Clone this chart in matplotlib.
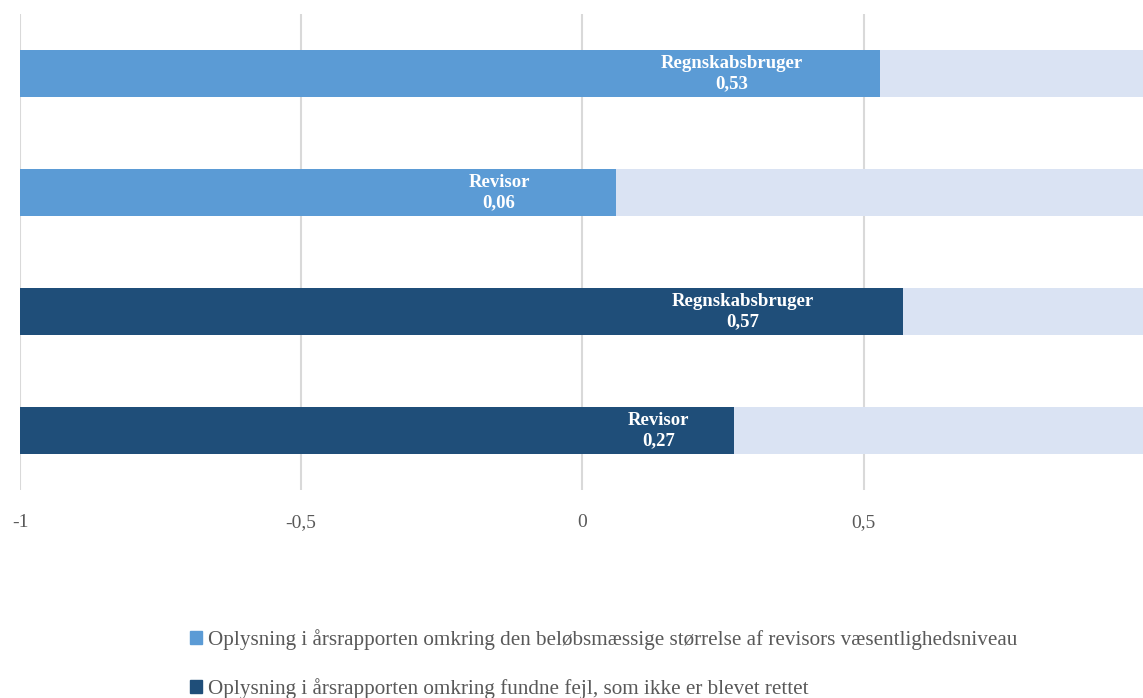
import matplotlib.pyplot as plt
from matplotlib.patches import Patch

# data
groups = ["Regnskabsbruger", "Revisor", "Regnskabsbruger", "Revisor"]
values = [0.53, 0.06, 0.57, 0.27]
series = [0, 0, 1, 1]  # 0 = væsentlighedsniveau, 1 = fundne fejl
series_names = [
    "Oplysning i årsrapporten omkring den beløbsmæssige størrelse af revisors væsentlighedsniveau",
    "Oplysning i årsrapporten omkring fundne fejl, som ikke er blevet rettet",
]
ticks = [-1, -0.5, 0, 0.5, 1]
tick_labels = ["-1", "-0,5", "0", "0,5", ""]  # "1" falls off the right edge

colors = ["#5B9BD5", "#1F4E79"]
bg_color = "#DAE3F3"

plt.rcParams['font.family'] = ['Liberation Serif', 'DejaVu Serif']

fig = plt.figure(figsize=(11.43, 6.98), dpi=100)
ax = fig.add_axes([0.0175, 0.298, 0.984, 0.682])

y = list(range(len(values)))
# light background bar spanning the whole scale
ax.barh(y, [2] * len(values), left=-1, height=0.4, color=bg_color, zorder=2)
ax.barh(y, [v + 1 for v in values], left=-1, height=0.4,
        color=[colors[s] for s in series], zorder=3)

# label positions: middle of 0..value, second label was moved left in the original
label_x = [v / 2 for v in values]
label_x[1] = -0.148
for yi, xi, g, v in zip(y, label_x, groups, values):
    ax.text(xi, yi, f"{g}\n{v:.2f}".replace(".", ","), ha="center", va="center",
            color="white", fontweight="bold", fontsize=13.5, zorder=4,
            linespacing=1.3)

ax.set_xlim(-1, 1)
ax.set_ylim(3.5, -0.5)
ax.set_xticks(ticks)
ax.set_xticklabels(tick_labels, color="#595959", fontsize=14)
ax.set_yticks([])
ax.tick_params(axis="x", length=0, pad=17)
ax.grid(axis="x", color="#D9D9D9", linewidth=1.5, zorder=1)
for sp in ax.spines.values():
    sp.set_visible(False)

handles = [Patch(color=c) for c in colors]
fig.legend(handles, series_names, loc="upper left", bbox_to_anchor=(0.166, 0.099),
           frameon=False, fontsize=15.2, handlelength=0.6, handleheight=0.6,
           handletextpad=0.25, labelspacing=1.35, labelcolor="#595959",
           borderaxespad=0, borderpad=0)

fig.savefig("out.png", dpi=100)
